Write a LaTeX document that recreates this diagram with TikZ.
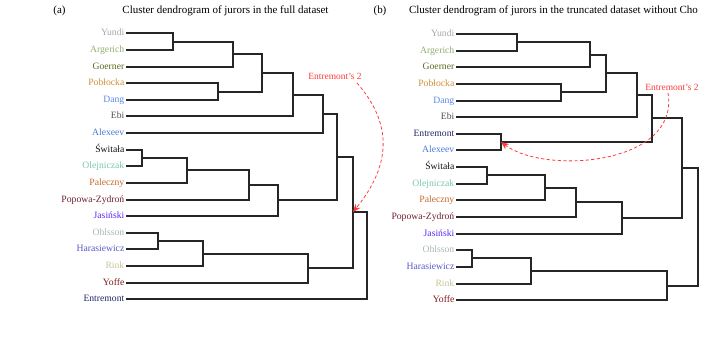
\documentclass[tikz,border=0pt]{standalone}
\usepackage{fontspec}
\setmainfont{Liberation Serif}
\usetikzlibrary{arrows.meta}
\definecolor{cYundi}{HTML}{A8A8A8}
\definecolor{cArg}{HTML}{8FB070}
\definecolor{cGoe}{HTML}{5A6A20}
\definecolor{cPob}{HTML}{D09038}
\definecolor{cDang}{HTML}{5A88E8}
\definecolor{cEbi}{HTML}{505050}
\definecolor{cAlex}{HTML}{4A78D8}
\definecolor{cSwi}{HTML}{101010}
\definecolor{cOle}{HTML}{78C8A8}
\definecolor{cPal}{HTML}{C86828}
\definecolor{cPop}{HTML}{702030}
\definecolor{cJas}{HTML}{5A28F0}
\definecolor{cOhl}{HTML}{A8B8B0}
\definecolor{cHar}{HTML}{5858C8}
\definecolor{cRink}{HTML}{C8C498}
\definecolor{cYof}{HTML}{801818}
\definecolor{cEnt}{HTML}{202868}
\definecolor{annot}{HTML}{FF3A3A}
\begin{document}
\begin{tikzpicture}[x={(1bp,0)},y={(0,-1bp)},
  lab/.style={anchor=mid east, inner xsep=2.5bp, inner ysep=0pt, font=\fontsize{9.7}{11}\selectfont},
  ttl/.style={font=\fontsize{11}{13}\selectfont, inner sep=0pt},
  tree/.style={line width=2bp, black!85, line cap=rect},
  ann/.style={annot, line width=0.8pt, dash pattern=on 3.2pt off 2.4pt, -{Stealth[length=8pt,width=6.5pt]}},
  anntext/.style={annot, font=\fontsize{9.5}{11}\selectfont, inner sep=0pt}]
\useasboundingbox (0,0) rectangle (703,341);
% ---------------- titles
\node[ttl] (ta) at (59.5,10.5) {(a)};
\node[ttl] (tat) at (225.5,10.5) {Cluster dendrogram of jurors in the full dataset};
\node[ttl] (tb) at (380,10.5) {(b)};
\node[ttl] (tbt) at (553.5,10.5) {Cluster dendrogram of jurors in the truncated dataset without Cho};
% ---------------- panel (a) leaves
\coordinate (a0) at (127,33);
\coordinate (a1) at (127,50);
\coordinate (a2) at (127,67);
\coordinate (a3) at (127,83);
\coordinate (a4) at (127,100);
\coordinate (a5) at (127,116);
\coordinate (a6) at (127,133);
\coordinate (a7) at (127,150);
\coordinate (a8) at (127,166);
\coordinate (a9) at (127,183);
\coordinate (a10) at (127,200);
\coordinate (a11) at (127,216);
\coordinate (a12) at (127,233);
\coordinate (a13) at (127,249);
\coordinate (a14) at (127,266);
\coordinate (a15) at (127,283);
\coordinate (a16) at (127,299);
\node[lab,text=cYundi] (la0) at (a0) {Yundi};
\node[lab,text=cArg] (la1) at (a1) {Argerich};
\node[lab,text=cGoe] (la2) at (a2) {Goerner};
\node[lab,text=cPob] (la3) at (a3) {Pobłocka};
\node[lab,text=cDang] (la4) at (a4) {Dang};
\node[lab,text=cEbi] (la5) at (a5) {Ebi};
\node[lab,text=cAlex] (la6) at (a6) {Alexeev};
\node[lab,text=cSwi] (la7) at (a7) {Świtała};
\node[lab,text=cOle] (la8) at (a8) {Olejniczak};
\node[lab,text=cPal] (la9) at (a9) {Paleczny};
\node[lab,text=cPop] (la10) at (a10) {Popowa-Zydroń};
\node[lab,text=cJas] (la11) at (a11) {Jasiński};
\node[lab,text=cOhl] (la12) at (a12) {Ohlsson};
\node[lab,text=cHar] (la13) at (a13) {Harasiewicz};
\node[lab,text=cRink] (la14) at (a14) {Rink};
\node[lab,text=cYof] (la15) at (a15) {Yoffe};
\node[lab,text=cEnt] (la16) at (a16) {Entremont};
% merges (a)
\coordinate (m1) at (173,42);
\coordinate (m2) at (233,54);
\coordinate (m3) at (218,92);
\coordinate (m4) at (262,73);
\coordinate (m5) at (293,95);
\coordinate (m6) at (323,114);
\coordinate (m7) at (142,158);
\coordinate (m8) at (187,170);
\coordinate (m9) at (249,185);
\coordinate (m10) at (278,200);
\coordinate (m11) at (337,157);
\coordinate (m12) at (158,241);
\coordinate (m13) at (203,254);
\coordinate (m14) at (308,268);
\coordinate (m15) at (353,212);
\coordinate (m16) at (367,256);
\draw[tree] (a0) -| (m1) |- (a1);
\draw[tree] (m1) -| (m2) |- (a2);
\draw[tree] (a3) -| (m3) |- (a4);
\draw[tree] (m2) -| (m4) |- (m3);
\draw[tree] (m4) -| (m5) |- (a5);
\draw[tree] (m5) -| (m6) |- (a6);
\draw[tree] (a7) -| (m7) |- (a8);
\draw[tree] (m7) -| (m8) |- (a9);
\draw[tree] (m8) -| (m9) |- (a10);
\draw[tree] (m9) -| (m10) |- (a11);
\draw[tree] (m6) -| (m11) |- (m10);
\draw[tree] (a12) -| (m12) |- (a13);
\draw[tree] (m12) -| (m13) |- (a14);
\draw[tree] (m13) -| (m14) |- (a15);
\draw[tree] (m11) -| (m15) |- (m14);
\draw[tree] (m15) -| (m16) |- (a16);
% annotation (a)
\node[anntext] (ea) at (335,76) {Entremont’s 2};
\coordinate (eas) at (357,83);
\draw[ann] (eas) .. controls (392,123) and (392,164) .. (m15);
% ---------------- panel (b) leaves
\coordinate (b0) at (457,34);
\coordinate (b1) at (457,51);
\coordinate (b2) at (457,67);
\coordinate (b3) at (457,84);
\coordinate (b4) at (457,101);
\coordinate (b5) at (457,117);
\coordinate (b6) at (457,134);
\coordinate (b7) at (457,150);
\coordinate (b8) at (457,167);
\coordinate (b9) at (457,184);
\coordinate (b10) at (457,200);
\coordinate (b11) at (457,217);
\coordinate (b12) at (457,234);
\coordinate (b13) at (457,250);
\coordinate (b14) at (457,267);
\coordinate (b15) at (457,284);
\coordinate (b16) at (457,300);
\node[lab,text=cYundi] (lb0) at (b0) {Yundi};
\node[lab,text=cArg] (lb1) at (b1) {Argerich};
\node[lab,text=cGoe] (lb2) at (b2) {Goerner};
\node[lab,text=cPob] (lb3) at (b3) {Pobłocka};
\node[lab,text=cDang] (lb4) at (b4) {Dang};
\node[lab,text=cEbi] (lb5) at (b5) {Ebi};
\node[lab,text=cEnt] (lb6) at (b6) {Entremont};
\node[lab,text=cAlex] (lb7) at (b7) {Alexeev};
\node[lab,text=cSwi] (lb8) at (b8) {Świtała};
\node[lab,text=cOle] (lb9) at (b9) {Olejniczak};
\node[lab,text=cPal] (lb10) at (b10) {Paleczny};
\node[lab,text=cPop] (lb11) at (b11) {Popowa-Zydroń};
\node[lab,text=cJas] (lb12) at (b12) {Jasiński};
\node[lab,text=cOhl] (lb13) at (b13) {Ohlsson};
\node[lab,text=cHar] (lb14) at (b14) {Harasiewicz};
\node[lab,text=cRink] (lb15) at (b15) {Rink};
\node[lab,text=cYof] (lb16) at (b16) {Yoffe};
% merges (b)
\coordinate (n1) at (517,42);
\coordinate (n2) at (590,55);
\coordinate (n3) at (561,92);
\coordinate (n4) at (606,73);
\coordinate (n5) at (637,95);
\coordinate (n6) at (501,142);
\coordinate (n7) at (652,118);
\coordinate (n8) at (487,175);
\coordinate (n9) at (545,188);
\coordinate (n10) at (576,202);
\coordinate (n11) at (622,218);
\coordinate (n12) at (682,168);
\coordinate (n13) at (472,258);
\coordinate (n14) at (531,271);
\coordinate (n15) at (667,286);
\coordinate (n16) at (698,227);
\draw[tree] (b0) -| (n1) |- (b1);
\draw[tree] (n1) -| (n2) |- (b2);
\draw[tree] (b3) -| (n3) |- (b4);
\draw[tree] (n2) -| (n4) |- (n3);
\draw[tree] (n4) -| (n5) |- (b5);
\draw[tree] (b6) -| (n6) |- (b7);
\draw[tree] (n5) -| (n7) |- (n6);
\draw[tree] (b8) -| (n8) |- (b9);
\draw[tree] (n8) -| (n9) |- (b10);
\draw[tree] (n9) -| (n10) |- (b11);
\draw[tree] (n10) -| (n11) |- (b12);
\draw[tree] (n7) -| (n12) |- (n11);
\draw[tree] (b13) -| (n13) |- (b14);
\draw[tree] (n13) -| (n14) |- (b15);
\draw[tree] (n14) -| (n15) |- (b16);
\draw[tree] (n12) -| (n16) |- (n15);
% annotation (b)
\node[anntext] (eb) at (672,87) {Entremont’s 2};
\coordinate (ebs) at (668,93);
\draw[ann] (ebs) .. controls (680,165) and (545,175) .. (n6);
\end{tikzpicture}
\end{document}
